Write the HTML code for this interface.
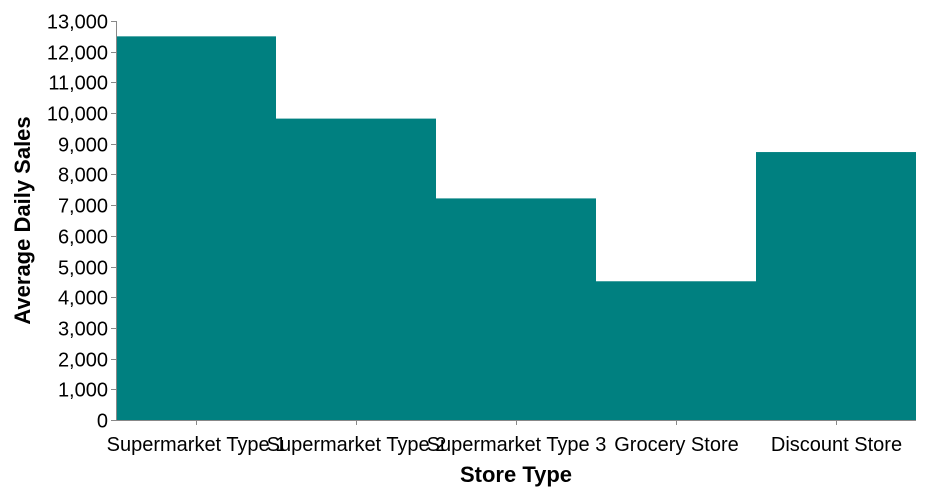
<!DOCTYPE html>
<html><head><meta charset="utf-8"><style>
html,body{margin:0;padding:0;background:#fff;}
svg{display:block;font-family:"Liberation Sans",Arial,sans-serif;}
</style></head><body>
<svg id="chart" width="926" height="494" viewBox="0 0 926 494"></svg>
<script>
const categories = ["Supermarket Type 1","Supermarket Type 2","Supermarket Type 3","Grocery Store","Discount Store"];
const values = [12500, 9820, 7220, 4520, 8730];
const yTicks = [0,1000,2000,3000,4000,5000,6000,7000,8000,9000,10000,11000,12000,13000];

const svg = document.getElementById('chart');
const NS = 'http://www.w3.org/2000/svg';
const x0 = 116, x1 = 916, y0 = 420, y1 = 21, yMax = 13000;
const band = (x1 - x0) / categories.length;
const xs = i => x0 + i * band;
const ys = v => y0 - (v / yMax) * (y0 - y1);
function mk(tag, attrs, parent){
  const e = document.createElementNS(NS, tag);
  for (const k in attrs) e.setAttribute(k, attrs[k]);
  (parent || svg).appendChild(e);
  return e;
}
const gBars = mk('g', {});


categories.forEach((c, i) => {
  const r = mk('rect', {x: xs(i), y: ys(values[i]), width: band, height: y0 - ys(values[i]), fill: '#008080'}, gBars);
  
  
});
const gY = mk('g', {});


mk('line', {x1: x0 + 0.5, x2: x0 + 0.5, y1: y1, y2: y0, stroke: '#888', 'stroke-width': 1}, gY);
yTicks.forEach(t => {
  const y = Math.round(ys(t)) + 0.5;
  mk('line', {x1: x0 - 5, x2: x0, y1: y, y2: y, stroke: '#888'}, gY);
  const tx = mk('text', {x: x0 - 8, y: y + 7, 'text-anchor': 'end', 'font-size': 20, fill: '#000'}, gY);
  tx.textContent = t.toLocaleString('en-US');
  
  
});
const gX = mk('g', {});


mk('line', {x1: x0, x2: x1, y1: y0 + 0.5, y2: y0 + 0.5, stroke: '#888'}, gX);
categories.forEach((c, i) => {
  const cx = Math.round(xs(i) + band / 2) + 0.5;
  mk('line', {x1: cx, x2: cx, y1: y0, y2: y0 + 5, stroke: '#888'}, gX);
  const tx = mk('text', {x: cx, y: y0 + 31, 'text-anchor': 'middle', 'font-size': 20, fill: '#000'}, gX);
  tx.textContent = c;
  
  
});
const xt = mk('text', {x: (x0 + x1) / 2, y: 482, 'text-anchor': 'middle', 'font-size': 22, 'font-weight': 'bold', fill: '#000'});
xt.textContent = 'Store Type';


const yt = mk('text', {x: 0, y: 0, 'text-anchor': 'middle', 'font-size': 22, 'font-weight': 'bold', fill: '#000', transform: 'translate(30,' + ((y0 + y1) / 2) + ') rotate(-90)'});
yt.textContent = 'Average Daily Sales';


</script>
</body></html>
